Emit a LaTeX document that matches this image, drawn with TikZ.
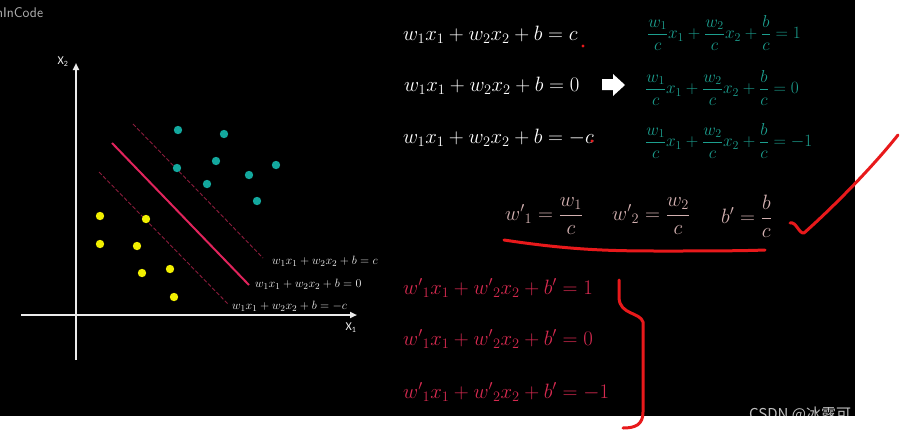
\documentclass[tikz,border=0pt]{standalone}
\usepackage{fontspec}
\usepackage{amsmath,amssymb}
\newfontfamily\cjkfont{Noto Sans CJK SC}
\newfontfamily\axisfont{Carlito}
\usepackage{tikz}
\usetikzlibrary{arrows.meta}

\begin{document}
\begin{tikzpicture}[x=1pt, y=-1pt, >=Stealth,
    axis/.style={draw=axisgray, line width=1.8pt, -{Triangle[length=7pt,width=6pt]}},
    sepline/.style={draw=sepred, line width=2pt},
    marginline/.style={draw=marginred, line width=0.9pt, dash pattern=on 4pt off 2pt},
    linelabel/.style={anchor=west, inner sep=0pt, text=labelwhite, font=\fontsize{13.1}{15}\selectfont},
    eqwhite/.style={anchor=west, inner sep=0pt, text=white, font=\fontsize{20.8}{24}\selectfont},
    eqteal/.style={anchor=west, inner sep=0pt, text=eqteal, font=\fontsize{18.8}{22}\selectfont},
    eqpink/.style={anchor=west, inner sep=0pt, text=eqpink, font=\fontsize{20}{22}\selectfont},
    eqred/.style={anchor=west, inner sep=0pt, text=eqred, font=\fontsize{20.9}{24}\selectfont},
    handstroke/.style={draw=handred, line width=3pt, line cap=round, line join=round}]
  \colorlet{axisgray}{black!8} \colorlet{labelwhite}{black!6}
  \definecolor{sepred}{HTML}{E0245C} \definecolor{marginred}{HTML}{8A1C3C}
  \definecolor{dotteal}{HTML}{13A89E} \definecolor{dotyellow}{HTML}{F2F000}
  \definecolor{eqteal}{HTML}{1C9E8E} \definecolor{eqpink}{HTML}{D2B0B0}
  \definecolor{eqred}{HTML}{D62A50} \definecolor{handred}{HTML}{E8191B}

  \useasboundingbox (0,0) rectangle (902,432);
  \fill[white] (0,0) rectangle (902,432);
  \fill[black] (0,0) rectangle (855,415.5);

  % watermarks, cut at the edge of the dark area
  \begin{scope}
    \clip (0,0) rectangle (855,415.5);
    \node[anchor=west, inner sep=0pt, text=black!30, font=\sffamily\fontsize{14}{16}\selectfont] (logo) at (-4,13) {nInCode};
    \node[anchor=west, inner sep=0pt, text=black!25, font=\cjkfont\fontsize{15}{17}\selectfont] (csdn) at (749,414.3) {CSDN @冰露可};
  \end{scope}

  % axes
  \draw[axis] (21,315) -- (357,315);
  \draw[axis] (76,360) -- (76,63);
  \node[text=labelwhite, font=\axisfont\fontsize{12}{14}\selectfont] (xtwo) at (63,62) {X\textsubscript{2}};
  \node[text=labelwhite, font=\axisfont\fontsize{12}{14}\selectfont] (xone) at (351,328) {X\textsubscript{1}};

  % separating line and margins
  \draw[marginline] (133,124) -- (263,258);
  \draw[sepline] (112,143) -- (249,285);
  \draw[marginline] (99,172) -- (228,304);
  \node[linelabel] (lplus) at (272,261) {$w_1x_1+w_2x_2+b=c$};
  \node[linelabel] (lzero) at (255,284) {$w_1x_1+w_2x_2+b=0$};
  \node[linelabel] (lminus) at (232,306) {$w_1x_1+w_2x_2+b=-c$};

  % samples
  \foreach \px/\py in {178/130, 224/134, 216/161, 177/168, 276/165, 249/175, 207/184, 257/201} {
    \fill[dotteal] (\px,\py) circle (4.2);
  }
  \foreach \px/\py in {100/216, 146/219, 100/244, 137/246, 142/273, 170/269, 174/297} {
    \fill[dotyellow] (\px,\py) circle (4.2);
  }

  % original equations
  \node[eqwhite] (eqa) at (403,35) {$w_1x_1+w_2x_2+b=c$};
  \node[eqwhite] (eqb) at (404,86) {$w_1x_1+w_2x_2+b=0$};
  \node[eqwhite] (eqc) at (403,138) {$w_1x_1+w_2x_2+b=-c$};
  \fill[handred] (583,46) circle (1.6);
  \fill[handred] (592,141) circle (1.6);
  \fill[white] (602,79) -- (613,79) -- (613,74) -- (625,85) -- (613,96) -- (613,90) -- (602,90) -- cycle;

  % divided by c
  \node[eqteal] (tqa) at (647,33) {$\dfrac{w_1}{c}x_1+\dfrac{w_2}{c}x_2+\dfrac{b}{c}=1$};
  \node[eqteal] (tqb) at (645,88) {$\dfrac{w_1}{c}x_1+\dfrac{w_2}{c}x_2+\dfrac{b}{c}=0$};
  \node[eqteal] (tqc) at (645,141) {$\dfrac{w_1}{c}x_1+\dfrac{w_2}{c}x_2+\dfrac{b}{c}=-1$};

  % new parameters
  \node[eqpink] (wone) at (505,216) {${w'}_1=\dfrac{w_1}{c}$};
  \node[eqpink] (wtwo) at (612,216) {${w'}_2=\dfrac{w_2}{c}$};
  \node[eqpink] (bnew) at (721,216) {$b'=\dfrac{b}{c}$};

  \node[eqred] (rqa) at (403,288) {${w'}_1x_1+{w'}_2x_2+b'=1$};
  \node[eqred] (rqb) at (403,339) {${w'}_1x_1+{w'}_2x_2+b'=0$};
  \node[eqred] (rqc) at (403,392) {${w'}_1x_1+{w'}_2x_2+b'=-1$};

  % hand marks
  \draw[handstroke] (504,240) .. controls (570,250) and (610,251) .. (660,251) .. controls (700,251) and (740,251) .. (765,250);
  \draw[handstroke] (790,223) .. controls (796,221) and (799,234) .. (804,233) .. controls (830,210) and (870,170) .. (898,135);
  \draw[handstroke] (619,280) -- (619,298) .. controls (620,315) and (640,312) .. (643,322) -- (643,412) .. controls (643,425) and (635,428) .. (623,428);
\end{tikzpicture}
\end{document}
